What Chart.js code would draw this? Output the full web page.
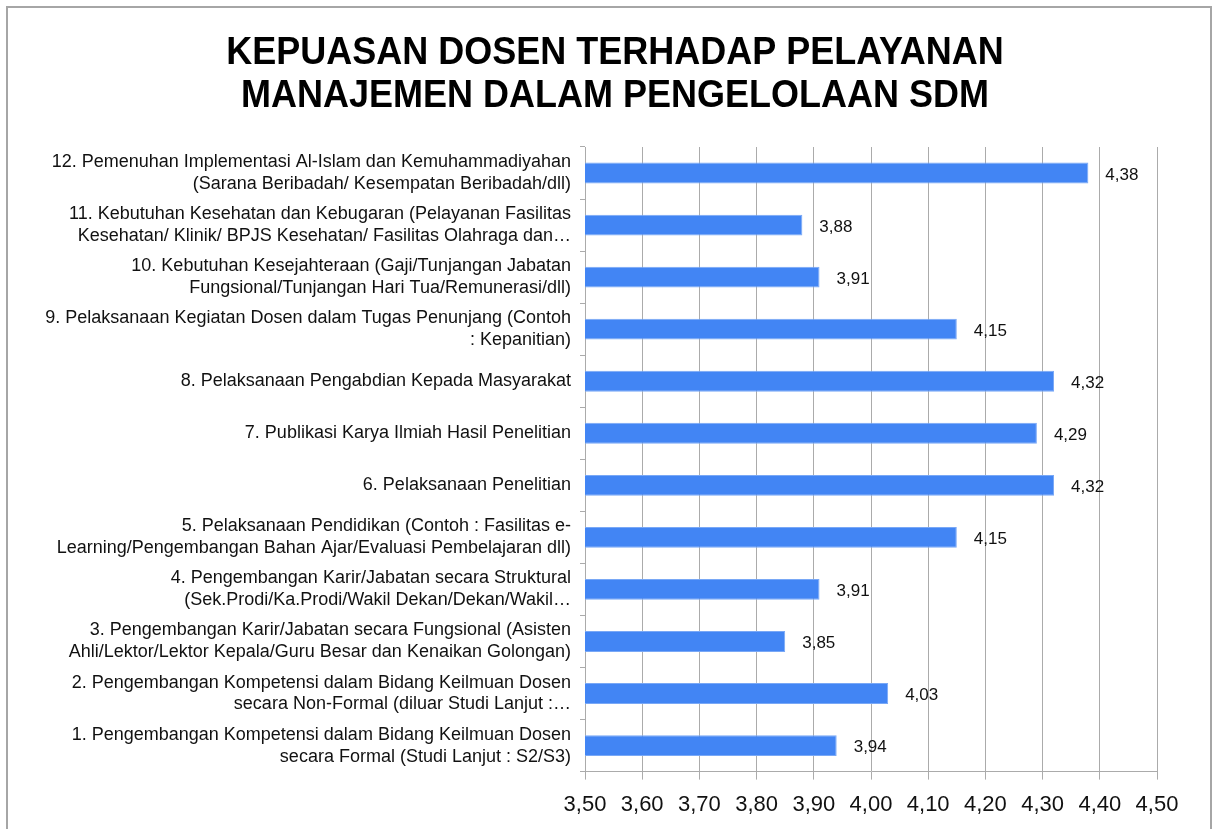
<!DOCTYPE html>
<html>
<head>
<meta charset="utf-8">
<script src="https://cdn.jsdelivr.net/npm/chart.js@4.4.1/dist/chart.umd.min.js"></script>
<style>
  html, body { margin: 0; padding: 0; background: #fff; }
  #wrap { width: 1214px; height: 829px; }
</style>
</head>
<body>
<div id="wrap"><canvas id="chart"></canvas></div>
<script>
// categories, bottom (1) to top (12)
const categories = [
  ["1. Pengembangan Kompetensi dalam Bidang Keilmuan Dosen", "secara Formal (Studi Lanjut : S2/S3)"],
  ["2. Pengembangan Kompetensi dalam Bidang Keilmuan Dosen", "secara Non-Formal (diluar Studi Lanjut :…"],
  ["3. Pengembangan Karir/Jabatan secara Fungsional (Asisten", "Ahli/Lektor/Lektor Kepala/Guru Besar dan Kenaikan Golongan)"],
  ["4. Pengembangan Karir/Jabatan secara Struktural", "(Sek.Prodi/Ka.Prodi/Wakil Dekan/Dekan/Wakil…"],
  ["5. Pelaksanaan Pendidikan (Contoh : Fasilitas e-", "Learning/Pengembangan Bahan Ajar/Evaluasi Pembelajaran dll)"],
  "6. Pelaksanaan Penelitian",
  "7. Publikasi Karya Ilmiah Hasil Penelitian",
  "8. Pelaksanaan Pengabdian Kepada Masyarakat",
  ["9. Pelaksanaan Kegiatan Dosen dalam Tugas Penunjang (Contoh", ": Kepanitian)"],
  ["10. Kebutuhan Kesejahteraan (Gaji/Tunjangan Jabatan", "Fungsional/Tunjangan Hari Tua/Remunerasi/dll)"],
  ["11. Kebutuhan Kesehatan dan Kebugaran (Pelayanan Fasilitas", "Kesehatan/ Klinik/ BPJS Kesehatan/ Fasilitas Olahraga dan…"],
  ["12. Pemenuhan Implementasi Al-Islam dan Kemuhammadiyahan", "(Sarana Beribadah/ Kesempatan Beribadah/dll)"]
];
const scores = [3.94, 4.03, 3.85, 3.91, 4.15, 4.32, 4.29, 4.32, 4.15, 3.91, 3.88, 4.38];
const xTickLabels = ["3,50", "3,60", "3,70", "3,80", "3,90", "4,00", "4,10", "4,20", "4,30", "4,40", "4,50"];
const titleLines = ["KEPUASAN DOSEN TERHADAP PELAYANAN", "MANAJEMEN DALAM PENGELOLAAN SDM"];

const FONT = "'Liberation Sans', Arial, sans-serif";
const GRID = '#ababab';

// grey frame round the whole picture + the two-line title
const framePlugin = {
  id: 'frame',
  beforeDraw(chart) {
    const ctx = chart.ctx;
    ctx.save();
    ctx.strokeStyle = '#a6a6a6';
    ctx.lineWidth = 2;
    ctx.strokeRect(7, 7, chart.width - 10, chart.height + 10);

    ctx.fillStyle = '#000';
    ctx.font = 'bold 36px ' + FONT;
    ctx.textAlign = 'center';
    ctx.textBaseline = 'middle';
    titleLines.forEach((line, i) => {
      ctx.save();
      ctx.translate(615, 53 + i * 43);
      ctx.scale(1, 1.1);
      ctx.fillText(line, 0, 0);
      ctx.restore();
    });
    ctx.restore();
  }
};

// value labels right of each bar
const valueLabels = {
  id: 'valueLabels',
  afterDatasetsDraw(chart) {
    const ctx = chart.ctx;
    const meta = chart.getDatasetMeta(0);
    ctx.save();
    ctx.font = '17px ' + FONT;
    ctx.fillStyle = '#111';
    ctx.textAlign = 'left';
    ctx.textBaseline = 'middle';
    meta.data.forEach((bar, i) => {
      const txt = scores[i].toFixed(2).replace('.', ',');
      ctx.fillText(txt, bar.x + 17, bar.y + 2);
    });
    ctx.restore();
  }
};

Chart.defaults.font.family = FONT;
Chart.defaults.color = '#111';

new Chart(document.getElementById('chart'), {
  type: 'bar',
  data: {
    labels: categories,
    datasets: [{
      data: scores,
      backgroundColor: '#4285f4',
      borderColor: '#79a8f6',
      borderWidth: 1,
      borderSkipped: false,
      categoryPercentage: 0.8,
      barPercentage: 0.5
    }]
  },
  options: {
    indexAxis: 'y',
    responsive: true,
    maintainAspectRatio: false,
    animation: false,
    layout: { padding: { left: 0, right: 57, top: 147, bottom: -1 } },
    plugins: {
      legend: { display: false },
      tooltip: { enabled: false },
      title: { display: false }
    },
    scales: {
      x: {
        min: 3.5,
        max: 4.5,
        ticks: {
          stepSize: 0.1,
          autoSkip: false,
          maxRotation: 0,
          padding: 12,
          color: '#111',
          font: { size: 22 },
          callback: (v, i) => xTickLabels[i]
        },
        grid: { color: GRID, tickLength: 8, drawTicks: true },
        border: { color: GRID }
      },
      y: {
        reverse: true,
        afterFit(scale) { scale.width = 585; },
        ticks: {
          autoSkip: false,
          padding: 9,
          color: '#111',
          font: { size: 18, lineHeight: 1.22 }
        },
        grid: { drawOnChartArea: false, color: GRID, tickLength: 5, offset: true },
        border: { color: GRID }
      }
    }
  },
  plugins: [framePlugin, valueLabels]
});
</script>
</body>
</html>
